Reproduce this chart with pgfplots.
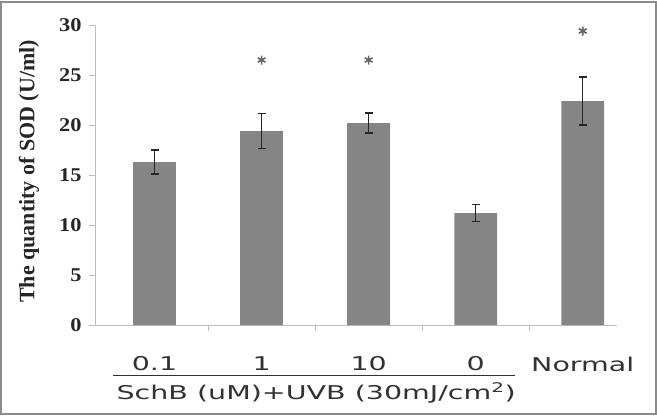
\documentclass[border=0pt]{standalone}
\usepackage{fontspec}
\setmainfont{Liberation Serif}
\newfontfamily\xlabfont{DejaVu Sans}[FakeStretch=1.5]
\newfontfamily\tickfont{Liberation Serif}[FakeStretch=1.15]
\usepackage{pgfplots}
\pgfplotsset{compat=1.18}
\definecolor{barcol}{RGB}{133,133,133}
\definecolor{axcol}{RGB}{190,190,190}
\definecolor{labcol}{RGB}{50,50,50}
\definecolor{framecol}{RGB}{140,140,140}
\definecolor{starcol}{RGB}{100,100,100}
\begin{document}
\begin{tikzpicture}
\begin{axis}[
  scale only axis, width=522pt, height=300pt,
  at={(0pt,0pt)}, anchor=south west,
  xmin=-0.556, xmax=4.32, ymin=0, ymax=30,
  axis x line*=bottom, axis y line*=left,
  axis line style={axcol, line width=0.9pt},
  tick align=outside,
  major tick length=6pt,
  every tick/.style={axcol, line width=0.9pt},
  ytick={0,5,10,15,20,25,30},
  /pgf/number format/assume math mode=true,
  yticklabel style={font=\tickfont\bfseries\fontsize{19.5}{19.5}\selectfont, text=black!85, xshift=-4pt},
  xtick={0.5,1.5,2.5,3.5},
  xticklabels={,,,},
  extra x ticks={0,1,2,3,4},
  extra x tick labels={0.1,1,10,0,Normal},
  extra x tick style={major tick length=0pt, tick label style={anchor=center, yshift=-39pt, font=\xlabfont\fontsize{19}{19}\selectfont, text=labcol}},
  ylabel={The quantity of SOD (U/ml)},
  ylabel style={at={(axis description cs:-0.1264,0.512)}, anchor=center, rotate=0, font=\bfseries\fontsize{22}{22}\selectfont, text=black!85},
  clip=false,
]
\addplot[ybar, bar width=0.4, fill=barcol, draw=none,
  error bars/.cd, y dir=both, y explicit,
  error mark options={rotate=90, black!85, mark size=4pt, line width=1.4pt},
  error bar style={black!85, line width=1.2pt}]
  coordinates {
  (0,16.3) +- (0,1.2)
  (1,19.4) +- (0,1.75)
  (2,20.2) +- (0,1.0)
  (3,11.2) +- (0,0.85)
  (4,22.4) +- (0,2.4)
  };
\addplot[only marks, mark=asterisk, mark size=4.5pt, color=starcol, mark options={line width=1.6pt}]
  coordinates {(1,26.5) (2,26.5) (4,29.4)};
\draw[labcol, line width=1pt] ([yshift=-50pt]axis cs:-0.39,0) -- ([yshift=-50pt]axis cs:3.37,0);
\node[font=\xlabfont\fontsize{19}{19}\selectfont, text=labcol] at ([yshift=-68pt]axis cs:1.51,0) {SchB (uM)+UVB (30mJ/cm\textsuperscript{2})};
\end{axis}
\draw[framecol, line width=2pt] (-93.5pt,-89pt) rectangle (560.5pt,323.5pt);
\pgfresetboundingbox
\useasboundingbox (-95pt,-91pt) rectangle (562pt,325pt);
\end{tikzpicture}
\end{document}
